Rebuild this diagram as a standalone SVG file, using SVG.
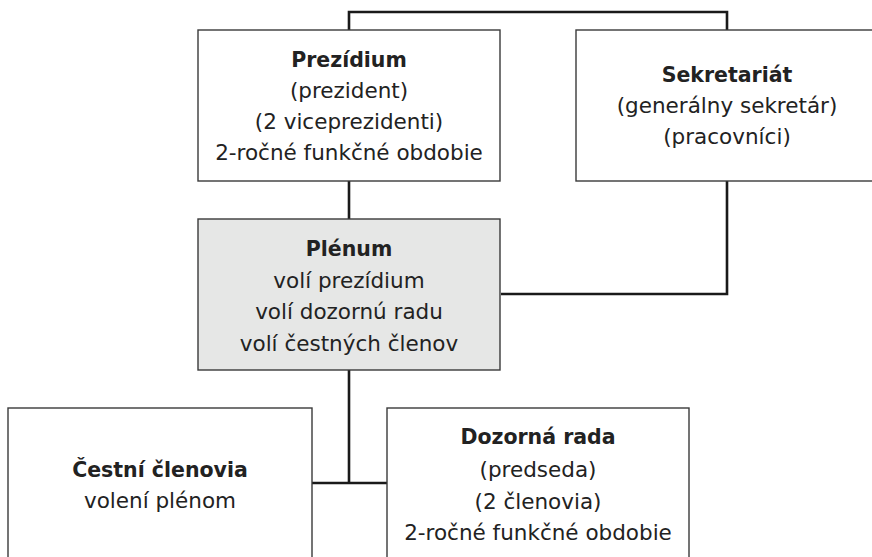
<svg xmlns="http://www.w3.org/2000/svg" width="872" height="557" viewBox="0 0 872 557">
<style>
.box{fill:#ffffff;stroke:#3a3a3a;stroke-width:1.4}
.gray{fill:#e6e7e6}
.conn{fill:none;stroke:#1a1a1a;stroke-width:2.6}
text{font-family:"DejaVu Sans","Liberation Sans",sans-serif;fill:#222;text-anchor:middle}
.t{font-size:20.5px;font-weight:bold}
.b{font-size:21.5px}
</style>
<rect width="872" height="557" fill="#ffffff"/>
<g id="connectors">
<polyline class="conn" points="349,30 349,12 727,12 727,30"/>
<line class="conn" x1="349" y1="181" x2="349" y2="219"/>
<polyline class="conn" points="727,181 727,294 501,294"/>
<line class="conn" x1="349" y1="370" x2="349" y2="483"/>
<line class="conn" x1="312" y1="483" x2="387" y2="483"/>
</g>
<g id="prezidium">
<rect class="box" x="198" y="30" width="302" height="151"/>
<text class="t" x="349" y="67">Prezídium</text>
<text class="b" x="349" y="98">(prezident)</text>
<text class="b" x="349" y="129">(2 viceprezidenti)</text>
<text class="b" x="349" y="160">2-ročné funkčné obdobie</text>
</g>
<g id="sekretariat">
<rect class="box" x="576" y="30" width="302" height="151"/>
<text class="t" x="727" y="82">Sekretariát</text>
<text class="b" x="727" y="113">(generálny sekretár)</text>
<text class="b" x="727" y="144">(pracovníci)</text>
</g>
<g id="plenum">
<rect class="box gray" x="198" y="219" width="302" height="151"/>
<text class="t" x="349" y="256">Plénum</text>
<text class="b" x="349" y="288">volí prezídium</text>
<text class="b" x="349" y="319">volí dozornú radu</text>
<text class="b" x="349" y="351">volí čestných členov</text>
</g>
<g id="cestni">
<rect class="box" x="8" y="408" width="304" height="160"/>
<text class="t" x="160" y="477">Čestní členovia</text>
<text class="b" x="160" y="508">volení plénom</text>
</g>
<g id="dozorna">
<rect class="box" x="387" y="408" width="302" height="160"/>
<text class="t" x="538" y="444">Dozorná rada</text>
<text class="b" x="538" y="477">(predseda)</text>
<text class="b" x="538" y="509">(2 členovia)</text>
<text class="b" x="538" y="540">2-ročné funkčné obdobie</text>
</g>
</svg>
